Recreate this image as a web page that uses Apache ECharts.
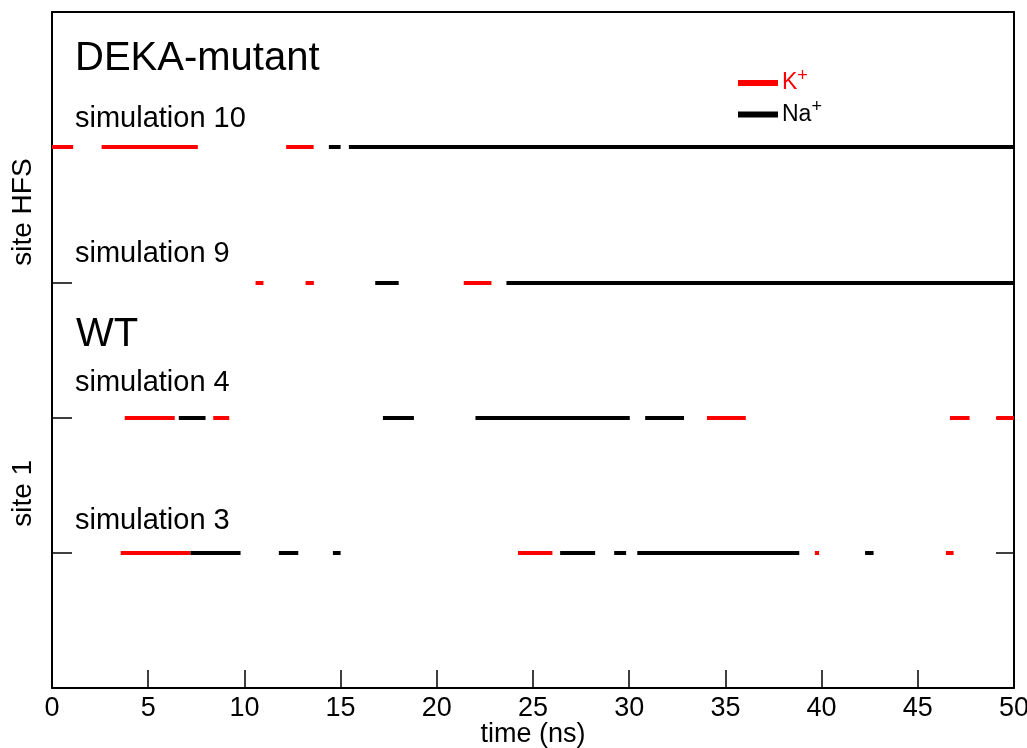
<!DOCTYPE html>
<html>
<head>
<meta charset="utf-8">
<script src="https://cdn.jsdelivr.net/npm/echarts@6/dist/echarts.min.js"></script>
<style>html,body{margin:0;padding:0;background:#fff}#c{width:1027px;height:748px}</style>
</head>
<body>
<div id="c"></div>
<script>
// Row positions on the y axis
var rowSim10 = 4, rowSim9 = 3, rowSim4 = 2, rowSim3 = 1;
// Occupancy intervals [start, end] in ns
var sim10K  = [[0, 1.1], [2.58, 7.58], [12.17, 13.6]];
var sim10Na = [[14.39, 15.0], [15.43, 50]];
var sim9K   = [[10.58, 10.99], [13.18, 13.61], [21.4, 22.84]];
var sim9Na  = [[16.8, 18.02], [23.62, 50]];
var sim4K   = [[3.78, 6.38], [8.38, 9.21], [34.04, 36.06], [46.67, 47.69], [49.08, 50]];
var sim4Na  = [[6.59, 7.98], [17.2, 18.81], [22.01, 30.03], [30.83, 32.85]];
var sim3K   = [[3.57, 7.2], [24.22, 26.01], [39.65, 39.87], [46.46, 46.86]];
var sim3Na  = [[7.2, 9.8], [11.79, 12.8], [14.6, 15.0], [26.41, 28.23], [29.22, 29.84], [30.42, 38.84], [42.26, 42.7]];
var xTicks = [0, 5, 10, 15, 20, 25, 30, 35, 40, 45, 50];
var rowTicks = [1, 2, 3, 4];
var siteLabelPos = [1.44, 3.52];
var siteLabels = ['site 1', 'site HFS'];

function segs(list, row) {
  return list.map(function (s) { return { coords: [[s[0], row], [s[1], row]] }; });
}
var kData = [].concat(segs(sim10K, rowSim10), segs(sim9K, rowSim9), segs(sim4K, rowSim4), segs(sim3K, rowSim3));
var naData = [].concat(segs(sim10Na, rowSim10), segs(sim9Na, rowSim9), segs(sim4Na, rowSim4), segs(sim3Na, rowSim3));

var FONT = '"Liberation Sans", Arial, sans-serif';
var chart = echarts.init(document.getElementById('c'));
chart.setOption({
  animation: false,
  backgroundColor: '#fff',
  grid: { left: 52, right: 13, top: 12, bottom: 60, containLabel: false, outerBoundsMode: 'none' },
  xAxis: [{
    type: 'value', min: 0, max: 50, interval: 5, position: 'bottom',
    name: 'time (ns)', nameLocation: 'middle', nameGap: 33, nameMoveOverlap: false,
    nameTextStyle: { color: '#000', fontSize: 27, fontFamily: FONT, verticalAlign: 'top' },
    axisLine: { show: true, onZero: false, lineStyle: { color: '#000', width: 2 } },
    axisTick: { show: true, inside: true, length: 18, lineStyle: { color: '#000', width: 1.5 } },
    axisLabel: { color: '#000', fontSize: 27, fontFamily: FONT, margin: 7 },
    splitLine: { show: false }
  }, {
    type: 'value', min: 0, max: 50, interval: 5, position: 'top',
    axisLine: { show: true, onZero: false, lineStyle: { color: '#000', width: 2 } },
    axisTick: { show: false }, axisLabel: { show: false }, splitLine: { show: false }
  }],
  yAxis: [{
    type: 'value', min: 0, max: 5, interval: 1, position: 'left',
    axisLine: { show: true, onZero: false, lineStyle: { color: '#000', width: 2 } },
    axisTick: { show: true, inside: true, length: 20, customValues: rowTicks, lineStyle: { color: '#000', width: 1.5 } },
    axisLabel: {
      show: true, customValues: siteLabelPos, rotate: 90, margin: 15,
      color: '#000', fontSize: 28, fontFamily: FONT,
      formatter: function (v) { return v < 2.5 ? siteLabels[0] : siteLabels[1]; }
    },
    splitLine: { show: false }
  }, {
    type: 'value', min: 0, max: 5, interval: 1, position: 'right',
    axisLine: { show: true, onZero: false, lineStyle: { color: '#000', width: 2 } },
    axisTick: { show: true, inside: true, length: 18, customValues: rowTicks, lineStyle: { color: '#000', width: 1.5 } },
    axisLabel: { show: false }, splitLine: { show: false }
  }],
  legend: {
    orient: 'vertical', left: 738, top: 67, padding: 0, itemWidth: 38, itemHeight: 4, itemGap: 4,
    icon: 'rect', selectedMode: false,
    textStyle: {
      fontFamily: FONT, fontSize: 23, color: '#000',
      rich: {
        b: { fontSize: 23, fontFamily: FONT },
        sup: { fontSize: 18, fontFamily: FONT, padding: [0, 0, 14, 0] }
      }
    },
    formatter: function (n) { return '{b|' + n.replace('+', '') + '}{sup|+}'; },
    data: [{ name: 'K+', textStyle: { color: '#ff0000' } }, { name: 'Na+' }]
  },
  graphic: [
    { type: 'text', left: 75, top: 39, style: { text: 'DEKA-mutant', font: '40px ' + FONT, fill: '#000' } },
    { type: 'text', left: 75, top: 104, style: { text: 'simulation 10', font: '29px ' + FONT, fill: '#000' } },
    { type: 'text', left: 75, top: 239, style: { text: 'simulation 9', font: '29px ' + FONT, fill: '#000' } },
    { type: 'text', left: 76, top: 315, style: { text: 'WT', font: '40px ' + FONT, fill: '#000' } },
    { type: 'text', left: 75, top: 368, style: { text: 'simulation 4', font: '29px ' + FONT, fill: '#000' } },
    { type: 'text', left: 75, top: 506, style: { text: 'simulation 3', font: '29px ' + FONT, fill: '#000' } }
  ],
  series: [{
    name: 'K+', type: 'lines', coordinateSystem: 'cartesian2d', polyline: false,
    lineStyle: { color: '#ff0000', width: 4, opacity: 1, cap: 'butt' },
    itemStyle: { color: '#ff0000' },
    data: kData
  }, {
    name: 'Na+', type: 'lines', coordinateSystem: 'cartesian2d', polyline: false,
    lineStyle: { color: '#000', width: 4, opacity: 1, cap: 'butt' },
    itemStyle: { color: '#000' },
    data: naData
  }]
});
</script>
</body>
</html>
